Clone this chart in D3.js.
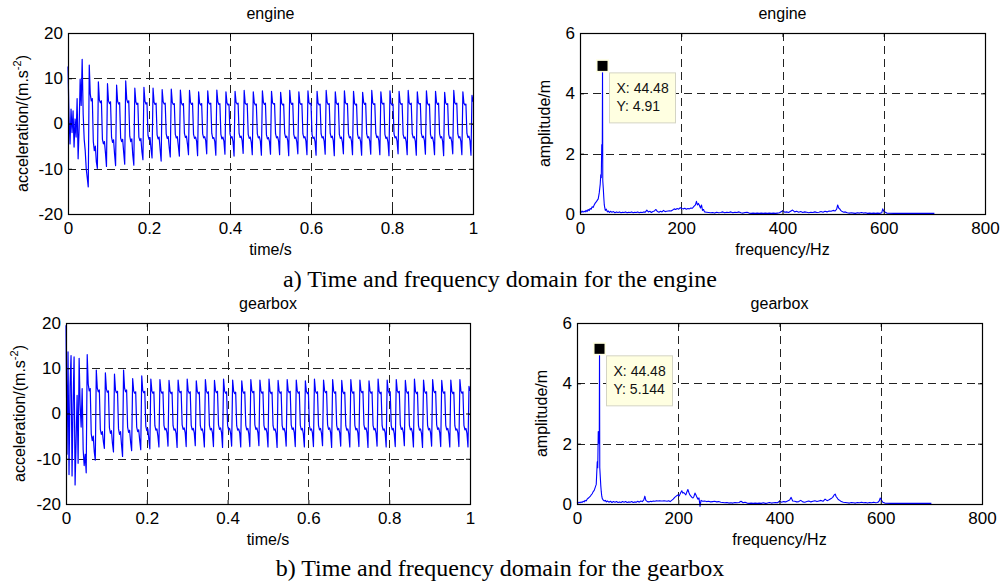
<!DOCTYPE html>
<html><head><meta charset="utf-8">
<script src="https://cdn.jsdelivr.net/npm/d3@7"></script>
<style>
body{margin:0;background:#fff}
svg{display:block}
</style>
</head><body>
<svg id="chart" width="1007" height="581"></svg>
<script>
// ---------------- data ----------------
const timeStep = 0.0025; // s between samples of the acceleration records
const engineAccel = [
 12.6,1.5,-4.5,3.2,-2.0,2.8,-5.2,1.0,-3.0,5.5,-7.8,-1.0,9.8,4.0,14.2,2.0,-3.5,-6.0,-10.0,-12.0,
 -14.0,12.9,6.5,5.0,5.5,-4.0,-6.0,-5.0,-8.5,  // c0
 -9.9,9.2,5.2,4.6,5.0,-3.5,-4.5,-4.0,-6.5,    // c1
 -9.5,8.8,5.0,4.4,4.8,-3.0,-4.2,-3.6,-6.8,    // c2
 -9.3,8.5,4.9,4.3,4.6,-3.2,-4.0,-3.5,-6.4,    // c3
 -9.0,9.4,5.4,4.6,5.0,-2.8,-4.0,-3.4,-7.0,    // c4
 -9.2,7.8,4.8,4.2,4.5,-3.0,-3.8,-3.3,-6.2,    // c5
 -8.0,8.0,4.9,4.3,4.6,-2.6,-3.5,-3.1,-5.6,    // c6
 -7.6,7.8,4.7,4.2,4.5,-2.5,-3.4,-3.0,-5.8,    // c7
 -8.3,7.5,4.8,4.3,4.5,-2.3,-3.3,-2.9,-5.4,    // c8
 -7.4,7.6,4.7,4.2,4.4,-2.4,-3.2,-2.9,-5.0,    // c9
 -7.2,7.4,4.6,4.1,4.4,-2.2,-3.1,-2.8,-4.6,    // c10
 -6.9,7.3,4.7,4.2,4.5,-2.4,-3.3,-3.0,-3.9,    // c11
 -7.1,7.0,4.5,4.1,4.4,-2.3,-3.2,-2.9,-3.8,    // c12
 -6.7,7.2,4.6,4.3,4.5,-2.2,-3.3,-3.1,-4.0,    // c13
 -7.0,7.4,4.8,4.2,4.4,-2.4,-3.4,-3.0,-3.9,    // c14
 -6.8,7.0,4.6,4.1,4.3,-2.3,-3.2,-2.9,-4.0,    // c15
 -7.2,7.1,4.7,4.3,4.5,-2.2,-3.1,-2.8,-3.8,    // c16
 -6.6,7.3,4.5,4.2,4.4,-2.4,-3.3,-3.0,-4.1,    // c17
 -6.9,7.0,4.6,4.1,4.3,-2.3,-3.2,-2.9,-3.9,    // c18
 -7.0,7.2,4.7,4.2,4.5,-2.5,-3.4,-3.1,-4.0,    // c19
 -6.8,7.1,4.6,4.3,4.4,-2.3,-3.2,-2.9,-3.9,    // c20
 -6.9,6.9,4.5,4.1,4.3,-2.2,-3.1,-2.8,-3.8,    // c21
 -7.1,7.3,4.7,4.2,4.5,-2.4,-3.3,-3.0,-4.1,    // c22
 -6.7,7.0,4.6,4.2,4.4,-2.3,-3.2,-2.9,-3.9,    // c23
 -6.9,7.2,4.6,4.3,4.5,-2.4,-3.3,-3.0,-4.0,    // c24
 -7.0,7.1,4.5,4.1,4.3,-2.3,-3.2,-2.9,-3.9,    // c25
 -6.8,7.3,4.7,4.2,4.4,-2.2,-3.1,-2.8,-3.8,    // c26
 -7.1,7.0,4.6,4.2,4.5,-2.4,-3.3,-3.0,-4.1,    // c27
 -6.7,7.2,4.6,4.3,4.4,-2.3,-3.2,-2.9,-3.9,    // c28
 -6.9,7.1,4.5,4.1,4.3,-2.4,-3.3,-3.0,-4.0,    // c29
 -7.0,6.9,4.7,4.2,4.5,-2.3,-3.2,-2.9,-3.9,    // c30
 -6.8,7.3,4.6,4.2,4.4,-2.2,-3.1,-2.8,-3.8,    // c31
 -6.9,7.0,4.6,4.3,4.5,-2.4,-3.3,-3.0,-4.1,    // c32
 -7.1,7.2,4.5,4.1,4.3,-2.3,-3.2,-2.9,-3.9,    // c33
 -6.7,7.1,4.7,4.2,4.4,-2.4,-3.3,-3.0,-4.0,    // c34
 -6.9,7.3,4.6,4.2,4.5,-2.3,-3.2,-2.9,-3.9,    // c35
 -7.0,7.0,4.6,4.3,4.4,-2.2,-3.1,-2.8,-3.8,    // c36
 -6.8,7.2,4.5,4.1,4.3,-2.4,-3.3,-3.0,-4.1,    // c37
 -6.9,7.1,4.7,4.2,4.5,-2.3,-3.2,-2.9,-3.9,    // c38
 -7.1,6.9,4.6,4.2,4.4,-2.4,-3.3,-3.0,-4.0,    // c39
 -6.7,7.3,4.6,4.3,4.5,-2.3,-3.2,-2.9,-3.9,    // c40
 -6.9,7.0,4.5,4.1,4.3,-2.2,-3.1,-2.8,-3.8,    // c41
 -7.0,6.2,4.8
];
const gearboxAccel = [
 19.5,-9.0,13.6,-13.5,6.0,12.8,-13.8,2.0,12.5,-15.8,-6.0,4.0,-11.0,12.2,2.0,-3.0,5.5,-8.0,-11.5,-9.0,
 -13.1,13.0,6.5,5.0,5.5,-4.5,-6.0,-5.0,-8.5,  // c0
 -10.3,9.6,5.6,4.8,5.2,-3.5,-4.6,-4.0,-6.2,   // c1
 -7.7,9.0,5.4,4.7,5.0,-3.2,-4.4,-3.8,-6.6,    // c2
 -8.5,8.7,5.2,4.6,4.9,-3.4,-4.6,-4.0,-7.0,    // c3
 -9.5,9.6,5.6,4.8,5.2,-3.0,-4.2,-3.7,-6.4,    // c4
 -8.2,7.7,5.0,4.5,4.8,-3.0,-4.0,-3.6,-6.0,    // c5
 -8.0,8.3,5.1,4.6,4.9,-2.8,-3.8,-3.4,-5.6,    // c6
 -7.8,7.6,5.0,4.5,4.8,-2.7,-3.7,-3.4,-5.0,    // c7
 -7.4,7.5,5.0,4.5,4.8,-2.6,-3.6,-3.3,-4.3,    // c8
 -7.2,7.3,4.9,4.4,4.7,-2.7,-3.7,-3.4,-4.4,    // c9
 -7.5,7.4,5.1,4.6,4.9,-2.5,-3.5,-3.2,-4.2,    // c10
 -7.3,7.6,5.0,4.5,4.8,-2.6,-3.6,-3.3,-4.3,    // c11
 -7.1,7.2,4.9,4.4,4.7,-2.7,-3.7,-3.4,-4.5,    // c12
 -7.4,7.5,5.0,4.5,4.8,-2.6,-3.6,-3.3,-4.3,    // c13
 -7.3,7.3,5.1,4.6,4.9,-2.5,-3.5,-3.2,-4.2,    // c14
 -7.5,7.6,5.0,4.5,4.8,-2.6,-3.6,-3.3,-4.4,    // c15
 -7.2,7.4,4.9,4.4,4.7,-2.7,-3.7,-3.4,-4.3,    // c16
 -7.4,7.2,5.0,4.5,4.8,-2.6,-3.6,-3.3,-4.5,    // c17
 -7.3,7.5,5.1,4.6,4.9,-2.5,-3.5,-3.2,-4.2,    // c18
 -7.1,7.4,5.0,4.5,4.8,-2.6,-3.6,-3.3,-4.3,    // c19
 -7.4,7.6,4.9,4.4,4.7,-2.7,-3.7,-3.4,-4.4,    // c20
 -7.5,7.3,5.0,4.5,4.8,-2.6,-3.6,-3.3,-4.3,    // c21
 -7.2,7.5,5.1,4.6,4.9,-2.5,-3.5,-3.2,-4.2,    // c22
 -7.3,7.4,5.0,4.5,4.8,-2.6,-3.6,-3.3,-4.5,    // c23
 -7.4,7.2,4.9,4.4,4.7,-2.7,-3.7,-3.4,-4.3,    // c24
 -7.3,7.6,5.0,4.5,4.8,-2.6,-3.6,-3.3,-4.4,    // c25
 -7.1,7.4,5.1,4.6,4.9,-2.5,-3.5,-3.2,-4.2,    // c26
 -7.5,7.5,5.0,4.5,4.8,-2.6,-3.6,-3.3,-4.3,    // c27
 -7.2,7.3,4.9,4.4,4.7,-2.7,-3.7,-3.4,-4.5,    // c28
 -7.4,7.5,5.0,4.5,4.8,-2.6,-3.6,-3.3,-4.3,    // c29
 -7.3,7.4,5.1,4.6,4.9,-2.5,-3.5,-3.2,-4.2,    // c30
 -7.5,7.2,5.0,4.5,4.8,-2.6,-3.6,-3.3,-4.4,    // c31
 -7.2,7.6,4.9,4.4,4.7,-2.7,-3.7,-3.4,-4.3,    // c32
 -7.4,7.4,5.0,4.5,4.8,-2.6,-3.6,-3.3,-4.5,    // c33
 -7.3,7.5,5.1,4.6,4.9,-2.5,-3.5,-3.2,-4.2,    // c34
 -7.1,7.3,5.0,4.5,4.8,-2.6,-3.6,-3.3,-4.3,    // c35
 -7.4,7.6,4.9,4.4,4.7,-2.7,-3.7,-3.4,-4.4,    // c36
 -7.5,7.4,5.0,4.5,4.8,-2.6,-3.6,-3.3,-4.3,    // c37
 -7.2,7.5,5.1,4.6,4.9,-2.5,-3.5,-3.2,-4.2,    // c38
 -7.3,7.3,5.0,4.5,4.8,-2.6,-3.6,-3.3,-4.5,    // c39
 -7.4,7.4,4.9,4.4,4.7,-2.7,-3.7,-3.4,-4.3,    // c40
 -7.3,7.5,5.0,4.5,4.8,-2.6,-3.6,-3.3,-4.4,    // c41
 -7.4,6.0,5.0
];
const engineSpectrum = [
 [0,0.08],[2,0.05],[4,0.1],[6,0.06],[8,0.09],[10,0.07],[12,0.12],[14,0.08],[16,0.15],[18,0.11],[20,0.18],[22,0.16],[24,0.24],[26,0.22],[28,0.3],[30,0.36],[32,0.4],[34,0.45],[36,0.5],[38,0.7],
 [40,1.0],[41,1.3],[42,1.2],[43,2.3],[44,2.0],[44.48,4.91],[45,1.1],[46,0.85],[47,0.55],[48,0.3],[49,0.2],[50,0.12],[52,0.16],[54,0.07],[56,0.1],[58,0.05],
 [60,0.09],[63,0.06],[66,0.08],[69,0.04],[72,0.07],[75,0.05],[78,0.07],[81,0.04],[84,0.06],[87,0.05],[90,0.07],[93,0.04],[96,0.06],[99,0.05],[102,0.07],[105,0.04],[108,0.06],[111,0.05],[114,0.07],[117,0.04],
 [120,0.06],[123,0.05],[126,0.07],[129,0.06],[132,0.13],[135,0.07],[138,0.09],[141,0.05],[144,0.08],[147,0.1],[150,0.15],[153,0.08],[156,0.06],[159,0.09],[162,0.07],[165,0.12],[168,0.08],[171,0.09],[174,0.1],[177,0.11],
 [180,0.1],[183,0.13],[186,0.17],[189,0.15],[192,0.18],[195,0.16],[198,0.21],[201,0.18],[204,0.17],[207,0.19],[210,0.16],[213,0.18],[216,0.17],[219,0.2],[222,0.19],[225,0.25],[228,0.3],[230,0.42],[232,0.3],[234,0.35],
 [236,0.28],[238,0.2],[240,0.3],[242,0.12],[244,0.15],[246,0.07],[250,0.06],[254,0.05],[258,0.04],[262,0.05],[266,0.03],[270,0.06],[274,0.04],[278,0.05],[282,0.07],[286,0.04],[290,0.06],[294,0.05],[298,0.07],[302,0.04],
 [306,0.06],[310,0.05],[314,0.07],[318,0.04],[322,0.03],[326,0.05],[330,0.06],[334,0.03],[338,0.02],[342,0.03],[346,0.02],[350,0.03],[354,0.02],[358,0.03],[362,0.02],[366,0.03],[370,0.02],[374,0.03],[378,0.02],[382,0.03],
 [386,0.02],[390,0.03],[394,0.04],[398,0.08],[401,0.11],[404,0.06],[408,0.07],[412,0.05],[416,0.09],[420,0.13],[424,0.07],[428,0.09],[432,0.06],[436,0.08],[440,0.05],[444,0.07],[448,0.06],[452,0.04],[456,0.06],[460,0.05],
 [464,0.07],[468,0.05],[472,0.06],[476,0.08],[480,0.06],[484,0.09],[488,0.07],[492,0.1],[496,0.09],[500,0.12],[504,0.1],[507,0.16],[509,0.3],[511,0.2],[513,0.17],[515,0.12],[518,0.08],[521,0.06],[524,0.07],[528,0.04],
 [532,0.03],[536,0.04],[540,0.03],[544,0.02],[548,0.04],[552,0.03],[556,0.05],[560,0.03],[564,0.04],[568,0.02],[572,0.03],[576,0.02],[580,0.03],[584,0.02],[588,0.03],[592,0.02],[596,0.04],[598,0.17],[600,0.1],[603,0.06],
 [606,0.03],[620,0.02],[640,0.02],[660,0.02],[680,0.02],[700,0.02]
];
const gearboxSpectrum = [
 [0,0.05],[2,0.03],[4,0.06],[6,0.04],[8,0.07],[10,0.05],[12,0.09],[14,0.07],[16,0.12],[18,0.1],[20,0.16],[22,0.19],[24,0.22],[26,0.25],[28,0.3],[30,0.34],[32,0.41],[34,0.45],[36,0.55],[38,0.65],
 [40,1.4],[41,1.2],[42,2.4],[43,2.2],[44,2.0],[44.48,5.144],[45,1.2],[46,0.9],[47,0.6],[48,0.4],[49,0.25],[50,0.18],[52,0.13],[54,0.1],[56,0.12],[58,0.07],
 [60,0.1],[63,0.06],[66,0.09],[69,0.05],[72,0.08],[75,0.06],[78,0.08],[81,0.05],[84,0.07],[87,0.05],[90,0.08],[93,0.06],[96,0.08],[99,0.05],[102,0.07],[105,0.06],[108,0.08],[111,0.05],[114,0.07],[117,0.06],
 [120,0.09],[123,0.06],[126,0.1],[129,0.08],[132,0.14],[134,0.26],[136,0.12],[139,0.08],[142,0.07],[145,0.09],[148,0.08],[151,0.1],[154,0.09],[157,0.11],[160,0.1],[163,0.11],[166,0.1],[169,0.1],[172,0.11],[175,0.1],
 [178,0.09],[181,0.11],[184,0.08],[187,0.12],[190,0.16],[193,0.22],[196,0.26],[199,0.3],[202,0.27],[205,0.38],[207,0.44],[209,0.36],[211,0.38],[213,0.34],[215,0.3],[217,0.4],[219,0.48],[221,0.38],[223,0.3],[225,0.26],
 [227,0.22],[229,0.2],[231,0.25],[233,0.36],[235,0.3],[237,0.22],[239,0.16],[241,0.2],[243,-0.08],[245,0.12],[248,0.09],[252,0.1],[256,0.08],[260,0.09],[264,0.07],[268,0.08],[272,0.09],[276,0.07],[280,0.08],[284,0.06],
 [288,0.05],[292,0.04],[296,0.05],[300,0.03],[304,0.04],[308,0.03],[312,0.05],[316,0.04],[320,0.05],[324,0.09],[328,0.04],[332,0.06],[336,0.03],[340,0.02],[344,0.03],[348,0.02],[352,0.03],[356,0.02],[360,0.03],[364,0.02],
 [368,0.04],[372,0.02],[376,0.03],[380,0.05],[384,0.03],[388,0.04],[392,0.05],[396,0.04],[400,0.09],[404,0.06],[408,0.08],[412,0.07],[416,0.1],[420,0.13],[423,0.22],[426,0.1],[430,0.09],[434,0.07],[438,0.08],[442,0.12],
 [446,0.07],[450,0.06],[454,0.08],[458,0.1],[462,0.07],[466,0.09],[470,0.11],[474,0.08],[478,0.1],[482,0.12],[486,0.09],[490,0.16],[494,0.11],[498,0.14],[502,0.18],[505,0.22],[508,0.3],[510,0.33],[512,0.24],[514,0.2],
 [516,0.15],[519,0.12],[522,0.08],[526,0.06],[530,0.05],[534,0.04],[538,0.03],[542,0.05],[546,0.04],[550,0.03],[554,0.05],[558,0.04],[562,0.06],[566,0.04],[570,0.05],[574,0.03],[578,0.05],[582,0.04],[586,0.06],[590,0.04],
 [594,0.05],[597,0.1],[599,0.2],[601,0.14],[604,0.06],[608,0.03],[620,0.02],[640,0.02],[660,0.02],[680,0.02],[700,0.02]
];
const timeTicks = [0, 0.2, 0.4, 0.6, 0.8, 1];
const accelTicks = [-20, -10, 0, 10, 20];
const freqTicks = [0, 200, 400, 600, 800];
const ampTicks = [0, 2, 4, 6];
const engineTip = [44.48, 4.91];
const engineTipLabels = ["X: 44.48", "Y: 4.91"];
const gearboxTip = [44.48, 5.144];
const gearboxTipLabels = ["X: 44.48", "Y: 5.144"];
const captions = ["a) Time and frequency domain for the engine", "b) Time and frequency domain for the gearbox"];

// ---------------- drawing ----------------
const SANS = "Arial, 'Liberation Sans', sans-serif";
const SERIF = "'Times New Roman', 'Liberation Serif', serif";
const svg = d3.select("#chart");

function panel(o) {
  const x = d3.scaleLinear().domain(o.xDomain).range([o.left, o.right]);
  const y = d3.scaleLinear().domain(o.yDomain).range([o.bottom, o.top]);
  const g = svg.append("g");

  // grid
  const gx = o.xTicks.filter(t => t > o.xDomain[0] && t < o.xDomain[1]);
  const gy = o.yTicks.filter(t => t > o.yDomain[0] && t < o.yDomain[1]);
  g.selectAll(".vg").data(gx).join("line")
    .attr("x1", d => Math.round(x(d)) + 0.5).attr("x2", d => Math.round(x(d)) + 0.5)
    .attr("y1", o.top).attr("y2", o.bottom)
    .attr("stroke", "#222").attr("stroke-width", 1).attr("stroke-dasharray", "8,5");
  g.selectAll(".hg").data(gy).join("line")
    .attr("y1", d => Math.round(y(d)) + 0.5).attr("y2", d => Math.round(y(d)) + 0.5)
    .attr("x1", o.left).attr("x2", o.right)
    .attr("stroke", "#222").attr("stroke-width", 1).attr("stroke-dasharray", "8,5");

  // data
  const line = d3.line().x(d => x(d[0])).y(d => y(d[1]));
  g.append("path").datum(o.data).attr("d", line)
    .attr("fill", "none").attr("stroke", "#0000ff").attr("stroke-width", o.lineWidth || 1)
    .attr("stroke-linejoin", "round");

  // axes (ticks inward, like MATLAB)
  const fmt = d => String(d);
  const ax = g.append("g").attr("transform", `translate(0,${o.bottom})`)
    .call(d3.axisBottom(x).tickValues(o.xTicks).tickSizeInner(-4).tickSizeOuter(0).tickPadding(8).tickFormat(fmt));
  const ay = g.append("g").attr("transform", `translate(${o.left},0)`)
    .call(d3.axisLeft(y).tickValues(o.yTicks).tickSizeInner(-4).tickSizeOuter(0).tickPadding(5).tickFormat(fmt));
  const axT = g.append("g").attr("transform", `translate(0,${o.top})`)
    .call(d3.axisTop(x).tickValues(o.xTicks).tickSizeInner(-4).tickSizeOuter(0).tickFormat(""));
  const ayR = g.append("g").attr("transform", `translate(${o.right},0)`)
    .call(d3.axisRight(y).tickValues(o.yTicks).tickSizeInner(-4).tickSizeOuter(0).tickFormat(""));
  [ax, ay, axT, ayR].forEach(a => {
    a.select(".domain").remove();
    a.selectAll("text").style("font-size", "17px").style("font-family", SANS).attr("fill", "#000");
    a.selectAll("line").attr("stroke", "#000");
  });

  // frame
  g.append("rect").attr("x", o.left + 0.5).attr("y", o.top + 0.5)
    .attr("width", o.right - o.left).attr("height", o.bottom - o.top)
    .attr("fill", "none").attr("stroke", "#000").attr("stroke-width", 1.2);

  // title and labels
  const cx = (o.left + o.right) / 2, cy = (o.top + o.bottom) / 2;
  g.append("text").attr("x", cx).attr("y", o.top - 14).attr("text-anchor", "middle")
    .style("font-family", SANS).style("font-size", "16px").text(o.title);
  g.append("text").attr("x", cx).attr("y", o.bottom + 41).attr("text-anchor", "middle")
    .style("font-family", SANS).style("font-size", "16px").text(o.xLabel);
  const yl = g.append("text").attr("transform", `translate(${o.left - o.yLabelOffset},${cy}) rotate(-90)`)
    .attr("text-anchor", "middle").style("font-family", SANS).style("font-size", "16px");
  yl.append("tspan").text(o.yLabel[0]);
  if (o.yLabel[1]) {
    yl.append("tspan").attr("dy", -7).style("font-size", "11px").text(o.yLabel[1]);
    yl.append("tspan").attr("dy", 7).text(o.yLabel[2]);
  }

  // data tip
  if (o.tip) {
    const mx = x(o.tip[0]), my = y(o.tip[1]);
    const bx = mx + 7, by = my + 7;
    g.append("rect").attr("x", bx).attr("y", by).attr("width", 66).attr("height", 50)
      .attr("fill", "#ffffe1").attr("stroke", "#d4d4c4").attr("stroke-width", 1);
    g.selectAll(".tiptext").data(o.tipLabels).join("text")
      .attr("x", bx + 7).attr("y", (d, i) => by + 20.5 + i * 17.7)
      .style("font-family", SANS).style("font-size", "14px").attr("fill", "#111").text(d => d);
    g.append("rect").attr("x", mx - 6.5).attr("y", my - 6.5).attr("width", 13).attr("height", 13)
      .attr("fill", "#ffffe1");
    g.append("rect").attr("x", mx - 5).attr("y", my - 5).attr("width", 10).attr("height", 10)
      .attr("fill", "#000");
  }
}

const engineSeries = engineAccel.map((v, i) => [i * timeStep, v]);
const gearboxSeries = gearboxAccel.map((v, i) => [i * timeStep, v]);

panel({left: 68, right: 473, top: 33, bottom: 214, xDomain: [0, 1], yDomain: [-20, 20],
  xTicks: timeTicks, yTicks: accelTicks, data: engineSeries, title: "engine", xLabel: "time/s",
  yLabel: ["acceleration/(m.s", "-2", ")"], yLabelOffset: 40, lineWidth: 1.2});
panel({left: 580, right: 985, top: 33, bottom: 214, xDomain: [0, 800], yDomain: [0, 6],
  xTicks: freqTicks, yTicks: ampTicks, data: engineSpectrum, title: "engine", xLabel: "frequency/Hz",
  yLabel: ["amplitude/m"], yLabelOffset: 30, tip: engineTip, tipLabels: engineTipLabels, lineWidth: 1.1});
panel({left: 66, right: 470, top: 323, bottom: 504, xDomain: [0, 1], yDomain: [-20, 20],
  xTicks: timeTicks, yTicks: accelTicks, data: gearboxSeries, title: "gearbox", xLabel: "time/s",
  yLabel: ["acceleration/(m.s", "-2", ")"], yLabelOffset: 41, lineWidth: 1.2});
panel({left: 577, right: 982, top: 323, bottom: 504, xDomain: [0, 800], yDomain: [0, 6],
  xTicks: freqTicks, yTicks: ampTicks, data: gearboxSpectrum, title: "gearbox", xLabel: "frequency/Hz",
  yLabel: ["amplitude/m"], yLabelOffset: 30, tip: gearboxTip, tipLabels: gearboxTipLabels, lineWidth: 1.1});

svg.selectAll(".caption").data(captions).join("text")
  .attr("x", 500).attr("y", (d, i) => [287, 576][i])
  .attr("text-anchor", "middle")
  .style("font-family", SERIF).style("font-size", "24px").attr("fill", "#000").text(d => d);
</script>
</body></html>
